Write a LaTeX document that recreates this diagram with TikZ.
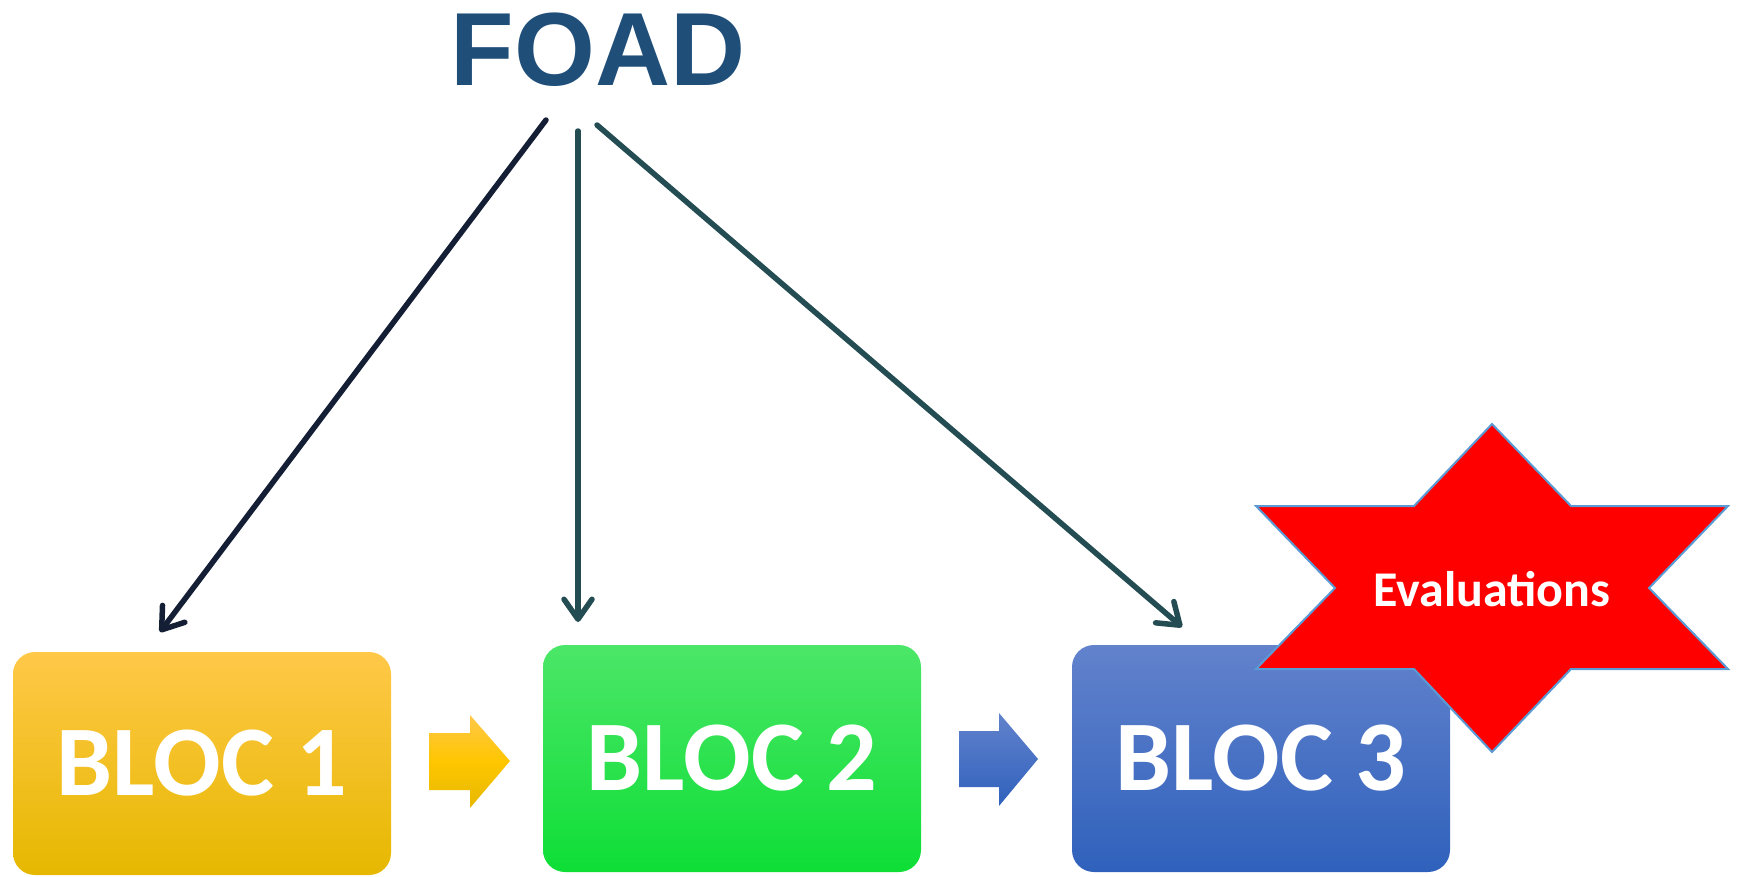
\documentclass[tikz,border=0pt]{standalone}
\usepackage{fontspec}
\setmainfont{Liberation Sans}
\newfontfamily\calfont{Carlito}
\usetikzlibrary{arrows.meta,calc}
\definecolor{foadblue}{RGB}{31,78,121}
\definecolor{navyline}{RGB}{20,31,54}
\definecolor{tealline}{RGB}{35,77,82}
\definecolor{ytop}{RGB}{255,200,72}
\definecolor{ymid}{RGB}{255,198,0}
\definecolor{ybot}{RGB}{230,184,0}
\definecolor{gtop}{RGB}{76,230,104}
\definecolor{gbot}{RGB}{14,222,54}
\definecolor{btop}{RGB}{98,130,204}
\definecolor{bbot}{RGB}{47,97,188}
\definecolor{starline}{RGB}{91,155,213}
\tikzset{
  blocbox/.style={rounded corners=22pt, minimum width=378pt, inner sep=0pt,
    text=white, font=\calfont\bfseries\fontsize{100}{100}\selectfont},
  linkarrow/.style={line width=5.5pt, line cap=round,
    -{Straight Barb[length=20pt,width=28pt,round]}},
}
\begin{document}
\begin{tikzpicture}[x=1pt,y=-1pt]
\useasboundingbox (0,0) rectangle (1737,876);
% title
\node[anchor=base, inner sep=0pt, text=foadblue,
  font=\bfseries\fontsize{104}{104}\selectfont] (foad) at (598,85) {FOAD};
% blocks
\node[blocbox, minimum height=223pt, top color=ytop, middle color=ymid, bottom color=ybot]
  (b1) at (202,763.5) {BLOC 1};
\node[blocbox, minimum height=227pt, top color=gtop, bottom color=gbot]
  (b2) at (732,758.5) {BLOC 2};
\node[blocbox, minimum height=227pt, top color=btop, bottom color=bbot]
  (b3) at (1261,758.5) {BLOC 3};
% block arrows
\shade[top color=ytop, bottom color=ybot, middle color=ymid]
  (429,733) -- (470,733) -- (470,715) -- (510,761) -- (470,808) -- (470,790) -- (429,790) -- cycle;
\shade[top color=btop, bottom color=bbot]
  (959,731) -- (999,731) -- (999,713) -- (1038,759) -- (999,806) -- (999,787) -- (959,787) -- cycle;
% star
\draw[fill=red, draw=starline, line width=2pt, line join=miter]
  (1492,424) -- (1571,506) -- (1728,506) -- (1649,588) -- (1728,669) -- (1571,669)
  -- (1492,752) -- (1414,669) -- (1256,669) -- (1335,588) -- (1256,506) -- (1414,506) -- cycle;
\node[anchor=base, inner sep=0pt, text=white,
  font=\calfont\bfseries\fontsize{50}{50}\selectfont] (ev) at (1492,606) {Evaluations};
% connectors
\coordinate (s1) at (546,120);
\coordinate (e1) at (160,632);
\coordinate (s2) at (578,131);
\coordinate (e2) at (578,622);
\coordinate (s3) at (597,125);
\coordinate (e3) at (1182,627);
\draw[linkarrow, draw=navyline] (s1) -- (e1);
\draw[linkarrow, draw=tealline] (s2) -- (e2);
\draw[linkarrow, draw=tealline] (s3) -- (e3);
\end{tikzpicture}
\end{document}
